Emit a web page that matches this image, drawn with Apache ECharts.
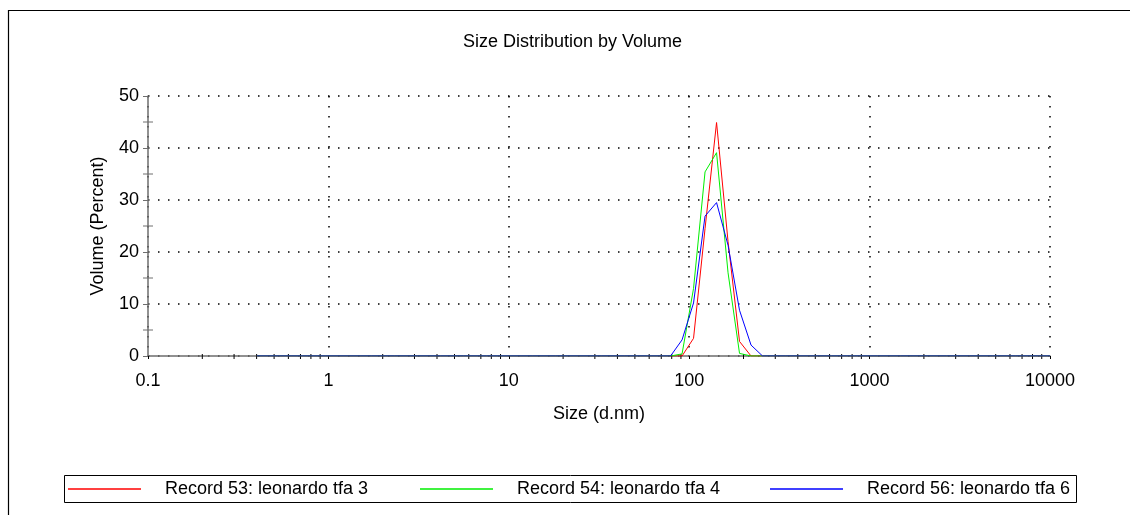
<!DOCTYPE html>
<html>
<head>
<meta charset="utf-8">
<script src="https://cdn.jsdelivr.net/npm/echarts@6/dist/echarts.min.js"></script>
<style>
html,body{margin:0;padding:0;background:#fff;}
#chart{width:1130px;height:515px;}
</style>
</head>
<body>
<div id="chart"></div>
<script>
// Size bins (d.nm)
var sizes = [0.4, 0.4632, 0.5365, 0.6213, 0.7195, 0.8332, 0.9649, 1.117, 1.294, 1.499,
  1.736, 2.01, 2.328, 2.696, 3.122, 3.615, 4.187, 4.849, 5.615, 6.503,
  7.531, 8.721, 10.1, 11.7, 13.54, 15.69, 18.17, 21.04, 24.36, 28.21,
  32.67, 37.84, 43.82, 50.75, 58.77, 68.06, 78.82, 91.28, 105.7, 122.4,
  141.8, 164.2, 190.1, 220.2, 255.0, 295.3, 342.0, 396.1, 458.7, 531.2,
  615.1, 712.4, 825.0, 955.4, 1106, 1281, 1484, 1718, 1990, 2305,
  2669, 3091, 3580, 4145, 4801, 5560, 6439, 7456, 8635, 10000];

// Volume (%) per bin
var record53 = [0,0,0,0,0,0,0,0,0,0,
  0,0,0,0,0,0,0,0,0,0,
  0,0,0,0,0,0,0,0,0,0,
  0,0,0,0,0,0,0,0,3.4,24.5,
  44.9,22,2.8,0,0,0,0,0,0,0,
  0,0,0,0,0,0,0,0,0,0,
  0,0,0,0,0,0,0,0,0,0];
var record54 = [0,0,0,0,0,0,0,0,0,0,
  0,0,0,0,0,0,0,0,0,0,
  0,0,0,0,0,0,0,0,0,0,
  0,0,0,0,0,0,0,0.4,13,35.4,
  39.1,16,0.5,0,0,0,0,0,0,0,
  0,0,0,0,0,0,0,0,0,0,
  0,0,0,0,0,0,0,0,0,0];
var record56 = [0,0,0,0,0,0,0,0,0,0,
  0,0,0,0,0,0,0,0,0,0,
  0,0,0,0,0,0,0,0,0,0,
  0,0,0,0,0,0,0,3.1,10.2,26.9,
  29.5,21.3,8.8,2.1,0,0,0,0,0,0,
  0,0,0,0,0,0,0,0,0,0,
  0,0,0,0,0,0,0,0,0,0];

var seriesNames = ['Record 53: leonardo tfa 3', 'Record 54: leonardo tfa 4', 'Record 56: leonardo tfa 6'];
var seriesColors = ['#ff0000', '#00ee00', '#0000ff'];
var xTickLabels = ['0.1', '1', '10', '100', '1000', '10000'];
var xMinorTicks = [0.2,0.3,0.4,0.5,0.6,0.7,0.8,0.9,
  2,3,4,5,6,7,8,9, 20,30,40,50,60,70,80,90,
  200,300,400,500,600,700,800,900, 2000,3000,4000,5000,6000,7000,8000,9000];
var yMinorTicks = [5, 15, 25, 35, 45];

var FONT = '"Liberation Sans", Arial, sans-serif';

function pairs(ys) {
  var out = [];
  for (var i = 0; i < sizes.length; i++) out.push([sizes[i], ys[i]]);
  return out;
}

var chart = echarts.init(document.getElementById('chart'), null, {renderer: 'canvas'});

var gridDots = {color: '#000', width: 1.5, type: [1.5, 8.5]};

var legendCommon = {
  top: 480,
  itemWidth: 73,
  itemHeight: 1.5,
  icon: 'rect',
  padding: 0,
  selectedMode: false,
  textStyle: {fontFamily: FONT, fontSize: 18, color: '#000', padding: [0, 0, 0, 19]}
};

var option = {
  animation: false,
  backgroundColor: '#fff',
  title: {
    text: 'Size Distribution by Volume',
    left: 463,
    top: 33,
    padding: 0,
    textStyle: {fontFamily: FONT, fontSize: 18, fontWeight: 'normal', color: '#000'}
  },
  legend: [
    Object.assign({}, legendCommon, {left: 68, data: [seriesNames[0]]}),
    Object.assign({}, legendCommon, {left: 420, data: [seriesNames[1]]}),
    Object.assign({}, legendCommon, {left: 770, data: [seriesNames[2]]})
  ],
  grid: {left: 148, right: 80, top: 96, bottom: 159, containLabel: false},
  xAxis: {
    type: 'log',
    logBase: 10,
    min: 0.1,
    max: 10000,
    name: 'Size (d.nm)',
    nameLocation: 'middle',
    nameGap: 49,
    nameTextStyle: {fontFamily: FONT, fontSize: 18, color: '#000'},
    axisLine: {show: true, lineStyle: {color: '#6e6e6e', width: 1.5}},
    axisTick: {show: true, length: 3, lineStyle: {color: '#000'}},
    axisLabel: {
      fontFamily: FONT, fontSize: 18, color: '#000', margin: 16,
      formatter: function (v) {
        var k = Math.round(Math.log10(v)) + 1;
        return xTickLabels[k] !== undefined ? xTickLabels[k] : '';
      }
    },
    splitLine: {show: true, lineStyle: gridDots},
    minorTick: {show: false},
    minorSplitLine: {show: false}
  },
  yAxis: {
    type: 'value',
    min: 0,
    max: 50,
    interval: 10,
    name: 'Volume (Percent)',
    nameLocation: 'middle',
    nameGap: 41,
    nameTextStyle: {fontFamily: FONT, fontSize: 18, color: '#000'},
    axisLine: {show: true, lineStyle: {color: '#6e6e6e', width: 1.5}},
    axisTick: {show: true, length: 5, lineStyle: {color: '#6e6e6e'}},
    minorTick: {show: false},
    axisLabel: {fontFamily: FONT, fontSize: 18, color: '#000', margin: 9},
    splitLine: {show: true, lineStyle: gridDots}
  },
  graphic: [
    {
      type: 'polyline',
      silent: true,
      shape: {points: [[8.5, 515], [8.5, 10.5], [1130, 10.5]]},
      style: {stroke: '#000', lineWidth: 1.2, fill: null}
    },
    {
      type: 'rect',
      silent: true,
      shape: {x: 64.5, y: 475.5, width: 1012, height: 27},
      style: {stroke: '#000', lineWidth: 1, fill: null}
    }
  ],
  series: [
    {
      name: seriesNames[0], type: 'line', data: pairs(record53),
      showSymbol: false, symbol: 'none', color: seriesColors[0],
      lineStyle: {color: seriesColors[0], width: 1}, z: 3
    },
    {
      name: seriesNames[1], type: 'line', data: pairs(record54),
      showSymbol: false, symbol: 'none', color: seriesColors[1],
      lineStyle: {color: seriesColors[1], width: 1}, z: 4
    },
    {
      name: seriesNames[2], type: 'line', data: pairs(record56),
      showSymbol: false, symbol: 'none', color: seriesColors[2],
      lineStyle: {color: seriesColors[2], width: 1}, z: 5
    },
    {
      name: 'xMinorTicks',
      type: 'custom',
      silent: true,
      z: 2,
      data: xMinorTicks.map(function (v) { return [v, 0]; }),
      renderItem: function (params, api) {
        var p = api.coord([api.value(0), 0]);
        return {
          type: 'line',
          shape: {x1: p[0], y1: p[1] - 2, x2: p[0], y2: p[1] + 3},
          style: {stroke: '#000', lineWidth: 1}
        };
      }
    },
    {
      name: 'yMinorTicks',
      type: 'custom',
      silent: true,
      z: 2,
      data: yMinorTicks.map(function (v) { return [0.1, v]; }),
      renderItem: function (params, api) {
        var p = api.coord([api.value(0), api.value(1)]);
        return {
          type: 'line',
          shape: {x1: p[0] - 5, y1: p[1], x2: p[0] + 5, y2: p[1]},
          style: {stroke: '#6e6e6e', lineWidth: 1}
        };
      }
    }
  ]
};

chart.setOption(option);
</script>
</body>
</html>
